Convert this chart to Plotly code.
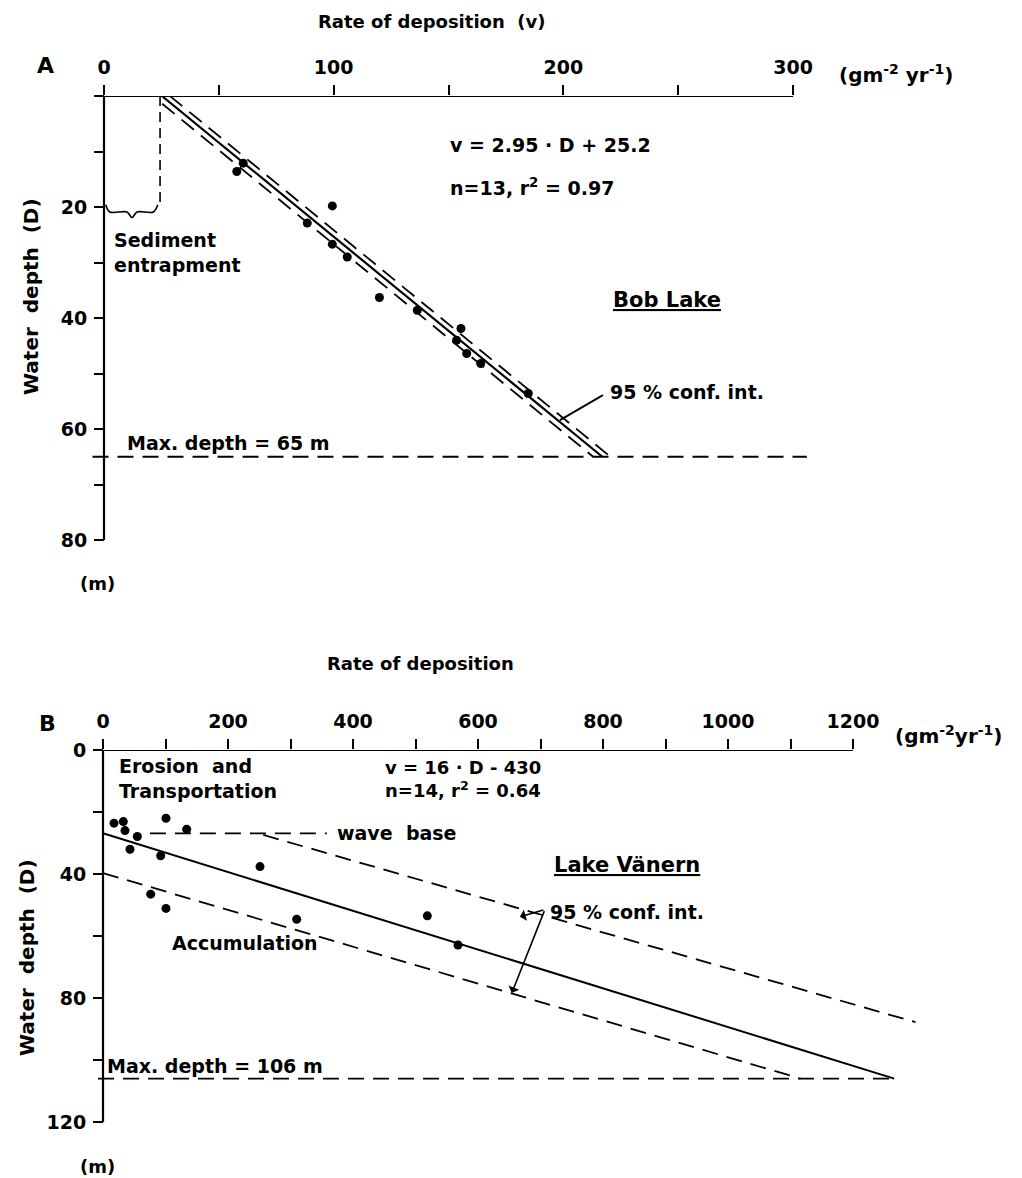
import plotly.graph_objects as go

W, H = 1022, 1178

# ---------------- Panel A : Bob Lake ----------------
a_rate = [57.8, 60.6, 99.4, 88.5, 99.4, 105.9, 119.9, 136.4, 155.4, 153.5, 157.9, 164.0, 184.7]
a_depth = [13.6, 12.1, 19.8, 22.9, 26.7, 29.0, 36.3, 38.6, 41.9, 44.0, 46.4, 48.2, 53.6]
a_slope, a_icpt = 2.95, 25.2
a_maxdepth = 65
a_ci_low, a_ci_high = -4.0, 3.5
a_entrap_rate, a_entrap_depth = 24.4, 19.3
a_xticks = [0, 50, 100, 150, 200, 250, 300]
a_xticklabels = ['0', '', '100', '', '200', '', '300']
a_yticks = [0, 10, 20, 30, 40, 50, 60, 70, 80]
a_yticklabels = ['', '', '20', '', '40', '', '60', '', '80']

# ---------------- Panel B : Lake Vanern ----------------
b_rate = [17.6, 32.5, 35.2, 54.9, 43.2, 100.8, 133.9, 92.3, 251.2, 76.3, 100.8, 309.9, 518.9, 568.0]
b_depth = [23.6, 23.1, 26.0, 27.9, 32.0, 22.0, 25.6, 34.1, 37.6, 46.5, 51.1, 54.6, 53.5, 62.9]
b_slope, b_icpt = 16.0, -430.0
b_maxdepth = 106
b_upper_rate, b_upper_depth = [256.5, 1300.0], [27.4, 87.8]
b_lower_rate, b_lower_depth = [0.0, 1116.0], [39.7, 106.0]
b_wave_rate = [75, 358]
b_xticks = list(range(0, 1300, 100))
b_xticklabels = [str(v) if v % 200 == 0 else '' for v in b_xticks]
b_yticks = [0, 20, 40, 60, 80, 100, 120]
b_yticklabels = ['0', '', '40', '', '80', '', '120']

FONT = 'DejaVu Sans'
DASH = '16px,9px'

fig = go.Figure()


def line(xs, ys, ax, dash=None, width=2.0):
    xa, ya = ('x', 'y') if ax == 1 else ('x2', 'y2')
    fig.add_trace(go.Scatter(x=xs, y=ys, mode='lines', xaxis=xa, yaxis=ya,
                             line=dict(color='black', width=width, dash=dash),
                             showlegend=False, hoverinfo='skip'))


# ---- Panel A drawing ----
line([0, 300], [0, 0], 1, width=2.2)
line([0, 0], [0, 80], 1, width=2.2)
a_d = [0, a_maxdepth]
line([a_slope * d + a_icpt for d in a_d], a_d, 1, width=2.2)
line([a_slope * d + a_icpt + a_ci_high for d in a_d], a_d, 1, dash=DASH, width=1.8)
a_d2 = [1.4, a_maxdepth]
line([a_slope * d + a_icpt + a_ci_low for d in a_d2], a_d2, 1, dash=DASH, width=1.8)
line([-5, 306], [a_maxdepth, a_maxdepth], 1, dash=DASH, width=1.8)
line([a_entrap_rate, a_entrap_rate], [0, a_entrap_depth], 1, dash='10px,6px', width=1.6)
fig.add_trace(go.Scatter(x=[0.8, 2.5, 10.0, 12.2, 14.4, 21.5, 23.4],
                         y=[19.6, 20.9, 20.9, 21.9, 20.9, 20.9, 19.6],
                         mode='lines', line=dict(color='black', width=1.6, shape='spline'),
                         xaxis='x', yaxis='y', showlegend=False, hoverinfo='skip'))
line([198.5, 217.2], [58.4, 53.9], 1, width=1.8)
fig.add_trace(go.Scatter(x=a_rate, y=a_depth, mode='markers', xaxis='x', yaxis='y',
                         marker=dict(color='black', size=9), showlegend=False, hoverinfo='skip'))

# ---- Panel B drawing ----
line([0, 1200], [0, 0], 2, width=2.2)
line([0, 0], [0, 120], 2, width=2.2)
b_d = [-b_icpt / b_slope, b_maxdepth]
line([b_slope * d + b_icpt for d in b_d], b_d, 2, width=2.0)
line(b_upper_rate, b_upper_depth, 2, dash=DASH, width=1.8)
line(b_lower_rate, b_lower_depth, 2, dash=DASH, width=1.8)
line([-8, b_slope * b_maxdepth + b_icpt], [b_maxdepth, b_maxdepth], 2, dash=DASH, width=1.8)
line(b_wave_rate, [-b_icpt / b_slope] * 2, 2, dash=DASH, width=1.8)
fig.add_trace(go.Scatter(x=b_rate, y=b_depth, mode='markers', xaxis='x2', yaxis='y2',
                         marker=dict(color='black', size=9), showlegend=False, hoverinfo='skip'))

# ---- axes ----
tickfont = dict(family=FONT, size=19, color='black', weight='bold')
axcommon = dict(showgrid=False, zeroline=False, showline=False, ticks='outside',
                ticklen=10, tickwidth=2, tickcolor='black', tickfont=tickfont,
                ticklabelstandoff=3, automargin=False)

ax0, axs = 104, 2.297
ay0, ays = 96, 5.55
axr = [-6, 312]
ayr = [82, 0]
bx0, bxs = 103, 0.625
by0, bys = 750, 3.1
bxr = [-16, 1330]
byr = [124, 0]

fig.update_layout(
    width=W, height=H, margin=dict(l=0, r=0, t=0, b=0, pad=0, autoexpand=False),
    showlegend=False,
    plot_bgcolor='white', paper_bgcolor='white',
    font=dict(family=FONT, size=18, color='black', weight='bold'),
    xaxis=dict(domain=[(ax0 + axr[0] * axs) / W, (ax0 + axr[1] * axs) / W], range=axr,
               side='top', anchor='y', tickvals=a_xticks, ticktext=a_xticklabels, **axcommon),
    yaxis=dict(domain=[1 - (ay0 + ayr[0] * ays) / H, 1 - ay0 / H], range=ayr,
               anchor='free', position=ax0 / W, tickvals=a_yticks, ticktext=a_yticklabels, **axcommon),
    xaxis2=dict(domain=[(bx0 + bxr[0] * bxs) / W, (bx0 + bxr[1] * bxs) / W], range=bxr,
                side='top', anchor='y2', tickvals=b_xticks, ticktext=b_xticklabels, **axcommon),
    yaxis2=dict(domain=[1 - (by0 + byr[0] * bys) / H, 1 - by0 / H], range=byr,
                anchor='free', position=bx0 / W, tickvals=b_yticks, ticktext=b_yticklabels, **axcommon),
)


def ann(text, x, y, ax=1, xanchor='left', size=18, **kw):
    xr, yr = ('x', 'y') if ax == 1 else ('x2', 'y2')
    if ax == 0:
        xr, yr = 'paper', 'paper'
    fig.add_annotation(text=text, x=x, y=y, xref=xr, yref=yr, showarrow=False,
                       xanchor=xanchor, yanchor='middle', align='left',
                       font=dict(family=FONT, size=size, color='black', weight='bold'), **kw)


def P(px, py):
    return px / W, 1 - py / H


ann('Rate of deposition  (v)', *P(431, 22), ax=0, xanchor='center')
ann('A', *P(45, 66), ax=0, xanchor='center', size=22)
ann('(gm<sup>-2</sup> yr<sup>-1</sup>)', *P(896, 74), ax=0, xanchor='center', size=20)
ann('Water  depth  (D)', *P(31, 297), ax=0, xanchor='center', textangle=-90, size=20)
ann('(m)', *P(97, 583), ax=0, xanchor='center')

ann('Rate of deposition', *P(420, 663), ax=0, xanchor='center')
ann('B', *P(47, 723), ax=0, xanchor='center', size=22)
ann('(gm<sup>-2</sup>yr<sup>-1</sup>)', *P(948, 735), ax=0, xanchor='center', size=20)
ann('Water  depth  (D)', *P(27, 958), ax=0, xanchor='center', textangle=-90, size=20)
ann('(m)', *P(97, 1166), ax=0, xanchor='center')

ann('v = 2.95 · D + 25.2', 149.8, 8.8, size=19)
ann('n=13, r<sup>2</sup> = 0.97', 149.8, 16.4, size=19)
ann('Sediment<br>entrapment', 3.5, 28.2, size=19)
ann('<u>Bob Lake</u>', 245, 36.8, xanchor='center', size=21)
ann('95 % conf. int.', 219.5, 53.3, size=19)
ann('Max. depth = 65 m', 9, 62.6, size=19)

ann('Erosion  and<br>Transportation', 22.4, 9.3, ax=2, size=19)
ann('v = 16 · D - 430<br>n=14, r<sup>2</sup> = 0.64', 448, 9.3, ax=2)
ann('wave  base', 371, 26.8, ax=2, size=19)
ann('<u>Lake Vänern</u>', 838, 37.1, ax=2, xanchor='center', size=21)
ann('95 % conf. int.', 712, 52.3, ax=2, size=19)
ann('Accumulation', 107, 62.3, ax=2, size=19)
ann('Max. depth = 106 m', 3, 101.8, ax=2, size=19)

for tip in [(667, 53.8), (654, 78.4)]:
    fig.add_annotation(x=tip[0], y=tip[1], ax=707, ay=51.5, xref='x2', yref='y2',
                       axref='x2', ayref='y2', showarrow=True, arrowhead=1,
                       arrowwidth=1.6, arrowsize=1.2, arrowcolor='black', text='')

fig.write_html('out.html')
